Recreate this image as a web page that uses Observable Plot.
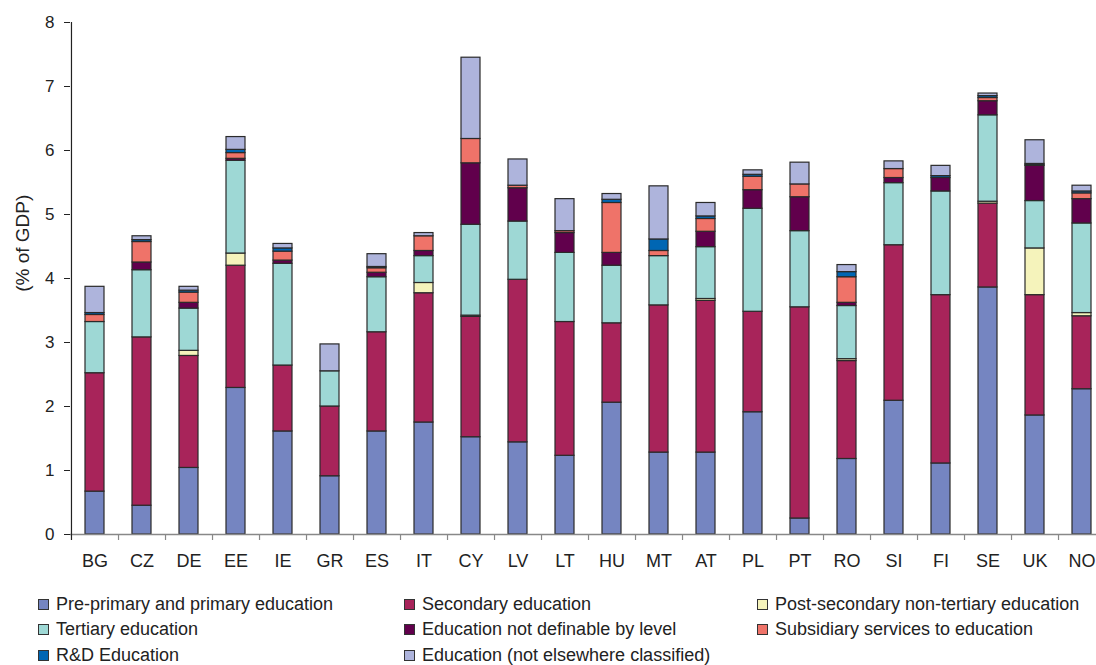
<!DOCTYPE html>
<html>
<head>
<meta charset="utf-8">
<script src="https://cdn.jsdelivr.net/npm/d3@7"></script>
<script src="https://cdn.jsdelivr.net/npm/@observablehq/plot@0.6"></script>
<style>
  html, body { margin: 0; padding: 0; background: #fff; overflow: hidden; }
  body { width: 1096px; height: 665px; font-family: "Liberation Sans", Arial, sans-serif; }
  #chart svg { display: block; }
  #legend { position: relative; height: 85px; font-size: 18px; color: #222; }
  .item { position: absolute; display: flex; align-items: center; white-space: nowrap; }
  .sw { width: 9px; height: 9px; border: 1px solid #333; margin-right: 7px; }
</style>
</head>
<body>
<div id="chart"></div>
<div id="legend"></div>
<script>
const countries = ["BG","CZ","DE","EE","IE","GR","ES","IT","CY","LV","LT","HU","MT","AT","PL","PT","RO","SI","FI","SE","UK","NO"];
const series = ["Pre-primary and primary education","Secondary education","Post-secondary non-tertiary education","Tertiary education","Education not definable by level","Subsidiary services to education","R&D Education","Education (not elsewhere classified)"];
const colors = ["#7585c1","#a8245a","#f5f3bb","#9ed8d5","#61004c","#ef7369","#0066b3","#aeb4dc"];

const prePrimary   = [0.67,0.45,1.04,2.29,1.61,0.91,1.61,1.75,1.52,1.44,1.23,2.06,1.28,1.28,1.91,0.25,1.18,2.09,1.11,3.86,1.86,2.27];
const secondary    = [1.85,2.63,1.75,1.91,1.03,1.09,1.55,2.02,1.88,2.54,2.09,1.24,2.30,2.37,1.57,3.30,1.53,2.43,2.63,1.31,1.88,1.14];
const postSec      = [0,0,0.08,0.19,0,0,0,0.16,0.02,0,0,0,0,0.03,0,0,0.03,0,0,0.03,0.73,0.05];
const tertiary     = [0.80,1.05,0.66,1.45,1.59,0.55,0.86,0.42,1.42,0.91,1.08,0.90,0.77,0.81,1.61,1.19,0.83,0.97,1.62,1.35,0.74,1.40];
const notDefinable = [0,0.12,0.09,0.03,0.05,0,0.07,0.08,0.96,0.52,0.31,0.20,0,0.24,0.29,0.53,0.05,0.08,0.21,0.22,0.55,0.38];
const subsidiary   = [0.11,0.32,0.16,0.09,0.14,0,0.07,0.23,0.38,0.04,0.03,0.78,0.08,0.20,0.21,0.20,0.40,0.14,0,0.05,0.01,0.09];
const rdEducation  = [0.03,0.03,0.03,0.05,0.05,0,0.02,0,0,0,0,0.05,0.18,0.04,0.03,0,0.08,0,0.03,0.03,0.02,0.03];
const notElsewhere = [0.41,0.06,0.06,0.20,0.07,0.42,0.20,0.05,1.27,0.41,0.50,0.09,0.83,0.21,0.07,0.34,0.11,0.12,0.16,0.04,0.37,0.09];
const yTicks = [0,1,2,3,4,5,6,7,8];

const valuesBySeries = [prePrimary, secondary, postSec, tertiary, notDefinable, subsidiary, rdEducation, notElsewhere];
const data = [];
series.forEach((s, si) => {
  countries.forEach((c, ci) => {
    const v = valuesBySeries[si][ci];
    if (v > 0) data.push({country: c, series: s, value: v});
  });
});

const W = 1096, H = 580, mL = 70, mR = -9;
const step = (W - mL - mR) / countries.length;

const chart = Plot.plot({
  width: W,
  height: H,
  marginLeft: mL,
  marginRight: mR,
  marginTop: 22,
  marginBottom: 46,
  style: {fontFamily: "'Liberation Sans', Arial, sans-serif", fontSize: "17px", color: "#222", background: "#fff"},
  x: {domain: countries, paddingInner: 0.6, paddingOuter: 0.3, label: null},
  y: {domain: [0, 8], label: null},
  color: {domain: series, range: colors},
  marks: [
    Plot.barY(data, {
      x: "country", y: "value", fill: "series",
      order: series,
      stroke: "#2a2a2a", strokeWidth: 1.2
    }),
    Plot.ruleY([0], {stroke: "#888", strokeWidth: 1.5}),
    Plot.axisX({tickSize: 6, tickFormat: () => "", dx: step / 2, stroke: "#888", strokeWidth: 1.2}),
    Plot.axisX([countries[0]], {tickSize: 6, tickFormat: () => "", dx: -step / 2, stroke: "#222", strokeWidth: 1.2}),
    Plot.axisX({tickSize: 0, tickPadding: 20, fontSize: 18}),
    Plot.axisY({ticks: yTicks, tickSize: 6, tickPadding: 10, fontSize: 17, label: null}),
    Plot.ruleX([countries[0]], {x: d => d, dx: -step / 2, y1: 0, y2: 8, stroke: "#222", strokeWidth: 1.2}),
    Plot.text(["(% of GDP)"], {frameAnchor: "left", y: () => 4.55, dx: -48, rotate: -90, textAnchor: "middle", fontSize: 19, fill: "#222"})
  ]
});
document.getElementById("chart").appendChild(chart);

// legend
const legend = document.getElementById("legend");
const colX = [38, 404, 757];
const rowY = [25, 50, 76];
series.forEach((s, i) => {
  const div = document.createElement("div");
  div.className = "item";
  div.style.left = colX[i % 3] + "px";
  div.style.top = (rowY[Math.floor(i / 3)] - 11) + "px";
  const sw = document.createElement("span");
  sw.className = "sw";
  sw.style.background = colors[i];
  const t = document.createElement("span");
  t.textContent = s;
  div.appendChild(sw);
  div.appendChild(t);
  legend.appendChild(div);
});
</script>
</body>
</html>
